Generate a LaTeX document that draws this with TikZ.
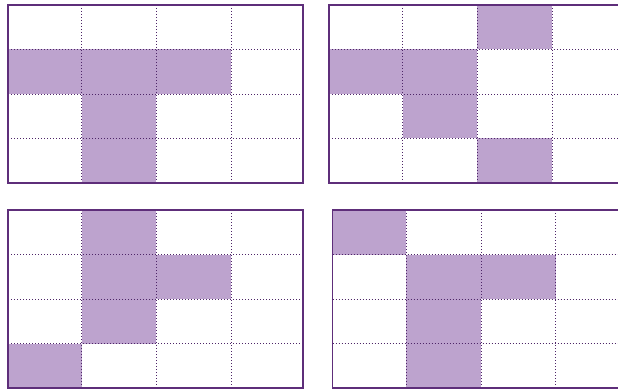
\documentclass[tikz,border=0pt]{standalone}
\definecolor{cellfill}{HTML}{BDA3CE}
\definecolor{borderc}{HTML}{5E2E7A}
\definecolor{dotc}{HTML}{4E2668}
\tikzset{
  cellbox/.style={fill=cellfill},
  gridline/.style={draw=dotc, line width=0.8pt, dash pattern=on 1pt off 2pt},
  framebox/.style={draw=borderc, line width=1.6pt}
}
\newcommand\mygrid[3]{%
  \foreach \c/\r in {#3}{%
    \pgfmathsetmacro\xl{{#1}[\c]}%
    \pgfmathsetmacro\xr{{#1}[\c+1]}%
    \fill[cellbox] (\xl,-#2-44.5*\r) rectangle (\xr,-#2-44.5*\r-44.5);
  }
  \pgfmathsetmacro\xa{{#1}[0]}%
  \pgfmathsetmacro\xe{{#1}[4]}%
  \foreach \i in {1,2,3}{%
    \pgfmathsetmacro\xv{{#1}[\i]}%
    \draw[gridline] (\xv,-#2) -- (\xv,-#2-178);
    \draw[gridline] (\xa,-#2-44.5*\i) -- (\xe,-#2-44.5*\i);
  }
  \draw[framebox] (\xa,-#2) rectangle (\xe,-#2-178);
}
\begin{document}
\begin{tikzpicture}[x=1pt,y=1pt]
\useasboundingbox (0,0) rectangle (618,-390);
\clip (0,0) rectangle (618,-390);
\mygrid{8,81.5,156,231,303}{5}{0/1,1/1,2/1,1/2,1/3}
\mygrid{329,402.5,477,552,626}{5}{2/0,0/1,1/1,1/2,2/3}
\mygrid{8,81.5,156,231,303}{210}{1/0,1/1,2/1,1/2,0/3}
\mygrid{332.5,406,481,555.5,629}{210}{0/0,1/1,2/1,1/2,1/3}
\end{tikzpicture}
\end{document}
